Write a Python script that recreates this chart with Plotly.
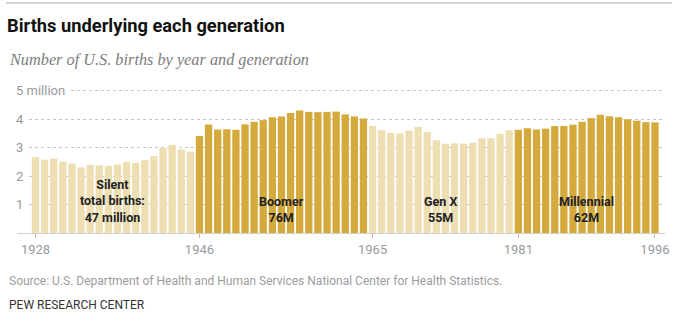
import plotly.graph_objects as go

# ---- data ----
years = list(range(1928, 1997))
births_millions = [
    2.67, 2.58, 2.62, 2.51, 2.44, 2.31, 2.40, 2.38, 2.36, 2.41, 2.50, 2.47, 2.56, 2.70, 2.99, 3.10, 2.94, 2.86,
    3.41, 3.82, 3.64, 3.65, 3.63, 3.82, 3.91, 3.97, 4.07, 4.10, 4.22, 4.31, 4.26, 4.25, 4.26, 4.27, 4.17, 4.10, 4.03,
    3.76, 3.61, 3.52, 3.50, 3.60, 3.73, 3.56, 3.26, 3.14, 3.16, 3.14, 3.17, 3.33, 3.33, 3.49, 3.61,
    3.63, 3.68, 3.64, 3.67, 3.76, 3.76, 3.81, 3.91, 4.04, 4.16, 4.11, 4.07, 4.00, 3.95, 3.90, 3.89,
]
gen_names = ["Silent", "Boomer", "Gen X", "Millennial"]
gen_start = [1928, 1946, 1965, 1981]
gen_end = [1945, 1964, 1980, 1996]
gen_labels = ["Silent<br>total births:<br>47 million", "Boomer<br>76M", "Gen X<br>55M", "Millennial<br>62M"]
gen_colors = ["#eddfb2", "#d5aa3c", "#eddfb2", "#d5aa3c"]
x_tick_years = [1928, 1946, 1965, 1981, 1996]
y_tick_vals = [1, 2, 3, 4, 5]
y_tick_text = ["1", "2", "3", "4", "5 million"]

title = "Births underlying each generation"
subtitle = "Number of U.S. births by year and generation"
source = "Source: U.S. Department of Health and Human Services National Center for Health Statistics."
credit = "PEW RESEARCH CENTER"

# ---- layout geometry ----
W, H = 682, 324
ML, MR, MT, MB = 17, 17, 88, 91
PW = W - ML - MR
PH = H - MT - MB


def px_x(p):
    return (p - ML) / PW


def px_y(p):
    return (H - MB - p) / PH


def gen_index(y):
    for i, (s, e) in enumerate(zip(gen_start, gen_end)):
        if s <= y <= e:
            return i
    return 0


bar_colors = [gen_colors[gen_index(y)] for y in years]

fig = go.Figure()
fig.add_trace(go.Bar(
    x=years, y=births_millions,
    marker=dict(color=bar_colors, line=dict(width=0)),
    hoverinfo="x+y",
))

annotations = []
# generation labels
for name, s, e, lab in zip(gen_names, gen_start, gen_end, gen_labels):
    annotations.append(dict(
        x=(s + e) / 2, y=0.2, xref="x", yref="y", text="<b>" + lab + "</b>",
        showarrow=False, xanchor="center", yanchor="bottom", align="center",
        font=dict(family="Roboto", size=12.5, color="#222222"),
    ))
# y tick labels with white background to cut the gridlines
for v, t in zip(y_tick_vals, y_tick_text):
    annotations.append(dict(
        x=px_x(ML - 4), y=v, xref="paper", yref="y", text=t,
        showarrow=False, xanchor="left", yanchor="middle",
        bgcolor="white", borderpad=3, borderwidth=0,
        font=dict(family="Roboto", size=13, color="#9a9a9a"),
    ))
# subtitle, source, credit
annotations.append(dict(
    x=px_x(7), y=px_y(59), xref="paper", yref="paper", text="<i>" + subtitle + "</i>",
    showarrow=False, xanchor="left", yanchor="middle",
    font=dict(family="Liberation Serif", size=16.3, color="#7d7d7d"),
))
annotations.append(dict(
    x=px_x(7), y=px_y(281), xref="paper", yref="paper", text=source,
    showarrow=False, xanchor="left", yanchor="middle",
    font=dict(family="Roboto", size=12, color="#9c9c9c"),
))
annotations.append(dict(
    x=px_x(7), y=px_y(305), xref="paper", yref="paper", text=credit,
    showarrow=False, xanchor="left", yanchor="middle",
    font=dict(family="Roboto", size=12, color="#333333"),
))

fig.update_layout(
    width=W, height=H,
    margin=dict(l=ML, r=MR, t=MT, b=MB, pad=0),
    paper_bgcolor="white", plot_bgcolor="white",
    showlegend=False,
    bargap=0.2,
    title=dict(
        text="<b>" + title + "</b>", xref="container", yref="container",
        x=7 / W, y=1 - 25.5 / H, xanchor="left", yanchor="middle",
        font=dict(family="Roboto", size=18.3, color="#111111"),
    ),
    xaxis=dict(
        range=[1925.97, 1997.1],
        tickvals=x_tick_years, ticktext=[str(y) for y in x_tick_years],
        ticks="outside", ticklen=4, tickcolor="#bbbbbb", tickwidth=1,
        showgrid=False, zeroline=False,
        showline=True, linecolor="#d0d0d0", linewidth=1,
        tickfont=dict(family="Roboto", size=13, color="#9a9a9a"),
        fixedrange=True,
    ),
    yaxis=dict(
        range=[0, 5.1],
        tickvals=y_tick_vals, showticklabels=False,
        showgrid=True, gridcolor="#c6c6c6", griddash="dot", gridwidth=1,
        zeroline=False, showline=False, fixedrange=True,
    ),
    annotations=annotations,
    shapes=[dict(
        type="line", xref="paper", yref="paper",
        x0=px_x(6), x1=px_x(672), y0=px_y(3), y1=px_y(3),
        line=dict(color="#d6d6d6", width=2),
    )],
)

fig.write_html("out.html")
